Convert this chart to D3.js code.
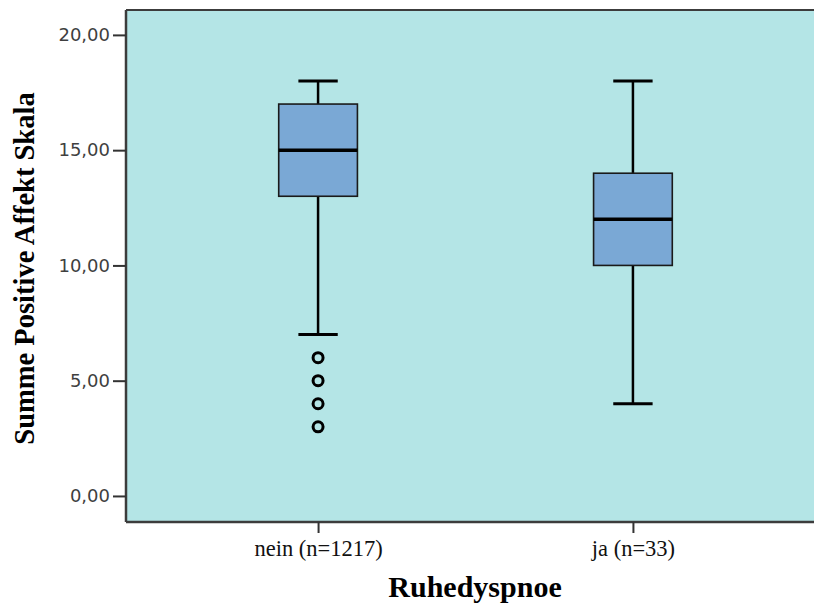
<!DOCTYPE html>
<html>
<head>
<meta charset="utf-8">
<script src="https://cdn.jsdelivr.net/npm/d3@7"></script>
<style>
  html, body { margin: 0; padding: 0; background: #ffffff; }
  svg { display: block; }
</style>
</head>
<body>
<svg id="chart" width="814" height="606"></svg>
<script>
// Groups and their box-plot summaries (Summe Positive Affekt Skala)
const categories = ["nein (n=1217)", "ja (n=33)"];
const whiskerLow  = [7, 4];
const quartile1   = [13, 10];
const medians     = [15, 12];
const quartile3   = [17, 14];
const whiskerHigh = [18, 18];
const outliers    = [[6, 5, 4, 3], []];
const yTicks      = [0, 5, 10, 15, 20];

const svg = d3.select("#chart");

const plot = { left: 126, right: 825, top: 10, bottom: 522 };

const y = d3.scaleLinear().domain([-1.13, 21.08]).range([plot.bottom, plot.top]);
const x = d3.scalePoint().domain(categories).range([plot.left, plot.right]).padding(0.61);
const boxW = x.step() * 0.25;
const capW = boxW / 2;

// plot background
svg.append("rect")
  .attr("x", plot.left).attr("y", plot.top)
  .attr("width", plot.right - plot.left).attr("height", plot.bottom - plot.top)
  .attr("fill", "#b4e5e6");

// top frame line
svg.append("line").attr("x1", plot.left).attr("x2", plot.right)
  .attr("y1", plot.top).attr("y2", plot.top)
  .attr("stroke", "#3c3c3c").attr("stroke-width", 2);

// axes
const fmt = d => d.toFixed(2).replace(".", ",");
const yAxis = svg.append("g")
  .attr("transform", `translate(${plot.left},0)`)
  .call(d3.axisLeft(y).tickValues(yTicks).tickFormat(fmt).tickSize(13).tickPadding(3));
yAxis.select(".domain").attr("stroke", "#3c3c3c").attr("stroke-width", 2.5)
  .attr("d", `M0,${plot.top}V${plot.bottom}`);
yAxis.selectAll(".tick line").attr("stroke", "#333").attr("stroke-width", 2);
yAxis.selectAll(".tick text")
  .attr("font-family", "DejaVu Sans, Verdana, sans-serif")
  .attr("font-size", 18).attr("fill", "#3f3f3f");

const xAxis = svg.append("g")
  .attr("transform", `translate(0,${plot.bottom})`)
  .call(d3.axisBottom(x).tickSize(11).tickPadding(7));
xAxis.select(".domain").attr("stroke", "#3c3c3c").attr("stroke-width", 2.5)
  .attr("d", `M${plot.left},0H${plot.right}`);
xAxis.selectAll(".tick line").attr("stroke", "#333").attr("stroke-width", 2);
xAxis.selectAll(".tick text")
  .attr("font-family", "Liberation Serif, Times New Roman, serif")
  .attr("font-size", 22.5).attr("fill", "#111");

// box plots
const groups = svg.append("g").selectAll("g")
  .data(categories.map((c, i) => ({
    c, lo: whiskerLow[i], q1: quartile1[i], med: medians[i],
    q3: quartile3[i], hi: whiskerHigh[i], out: outliers[i]
  })))
  .join("g")
  .attr("transform", d => `translate(${x(d.c)},0)`);

// whisker stems
groups.append("line")
  .attr("x1", 0).attr("x2", 0)
  .attr("y1", d => y(d.hi)).attr("y2", d => y(d.q3))
  .attr("stroke", "#000").attr("stroke-width", 2.5);
groups.append("line")
  .attr("x1", 0).attr("x2", 0)
  .attr("y1", d => y(d.q1)).attr("y2", d => y(d.lo))
  .attr("stroke", "#000").attr("stroke-width", 2.5);
// whisker caps
groups.append("line")
  .attr("x1", -capW / 2).attr("x2", capW / 2)
  .attr("y1", d => y(d.hi)).attr("y2", d => y(d.hi))
  .attr("stroke", "#000").attr("stroke-width", 3);
groups.append("line")
  .attr("x1", -capW / 2).attr("x2", capW / 2)
  .attr("y1", d => y(d.lo)).attr("y2", d => y(d.lo))
  .attr("stroke", "#000").attr("stroke-width", 3);
// boxes
groups.append("rect")
  .attr("x", -boxW / 2).attr("width", boxW)
  .attr("y", d => y(d.q3)).attr("height", d => y(d.q1) - y(d.q3))
  .attr("fill", "#7aa8d5").attr("stroke", "#1a1a1a").attr("stroke-width", 1.6);
// medians
groups.append("line")
  .attr("x1", -boxW / 2).attr("x2", boxW / 2)
  .attr("y1", d => y(d.med)).attr("y2", d => y(d.med))
  .attr("stroke", "#000").attr("stroke-width", 3.5);
// outliers
groups.selectAll("circle")
  .data(d => d.out)
  .join("circle")
  .attr("cx", 0).attr("cy", v => y(v)).attr("r", 5)
  .attr("fill", "none").attr("stroke", "#000").attr("stroke-width", 3);

// axis titles
svg.append("text")
  .attr("x", 475).attr("y", 597)
  .attr("text-anchor", "middle")
  .attr("font-family", "Liberation Serif, Times New Roman, serif")
  .attr("font-weight", "bold").attr("font-size", 30)
  .attr("fill", "#000")
  .text("Ruhedyspnoe");

svg.append("text")
  .attr("transform", `translate(34,${(92 + 445) / 2}) rotate(-90)`)
  .attr("text-anchor", "middle")
  .attr("font-family", "Liberation Serif, Times New Roman, serif")
  .attr("font-weight", "bold").attr("font-size", 28.5)
  .attr("fill", "#000")
  .text("Summe Positive Affekt Skala");
</script>
</body>
</html>
